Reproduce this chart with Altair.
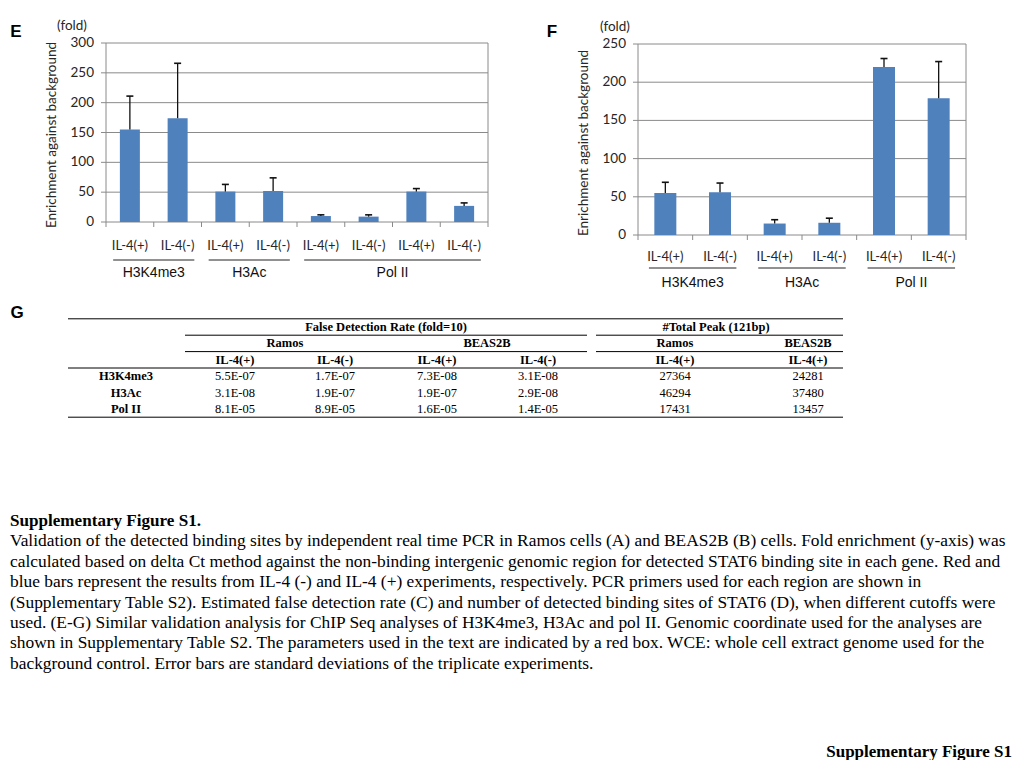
import altair as alt
import pandas as pd

# ---------------- data ----------------
E_GROUPS = ["H3K4me3", "H3K4me3", "H3Ac", "H3Ac", "Pol II", "Pol II", "Pol II", "Pol II"]
E_CONDS = ["IL-4(+)", "IL-4(-)", "IL-4(+)", "IL-4(-)", "IL-4(+)", "IL-4(-)", "IL-4(+)", "IL-4(-)"]
E_MEANS = [155, 174, 51, 52, 10, 9, 51, 27]
E_SDS = [56, 92, 12, 22, 2, 3, 5, 5]
E_YTICKS = [0, 50, 100, 150, 200, 250, 300]

F_GROUPS = ["H3K4me3", "H3K4me3", "H3Ac", "H3Ac", "Pol II", "Pol II"]
F_CONDS = ["IL-4(+)", "IL-4(-)", "IL-4(+)", "IL-4(-)", "IL-4(+)", "IL-4(-)"]
F_MEANS = [55, 56, 15, 16, 220, 179]
F_SDS = [14, 12, 5, 6, 11, 48]
F_YTICKS = [0, 50, 100, 150, 200, 250]

Y_TITLE = "Enrichment against  background"
UNIT = "(fold)"

TABLE_HEAD1 = ["False Detection Rate (fold=10)", "#Total  Peak (121bp)"]
TABLE_HEAD2 = ["Ramos", "BEAS2B", "Ramos", "BEAS2B"]
TABLE_HEAD3 = ["IL-4(+)", "IL-4(-)", "IL-4(+)", "IL-4(-)", "IL-4(+)", "IL-4(+)"]
TABLE_ROWS = ["H3K4me3", "H3Ac", "Pol II"]
FDR_RAMOS_PLUS = ["5.5E-07", "3.1E-08", "8.1E-05"]
FDR_RAMOS_MINUS = ["1.7E-07", "1.9E-07", "8.9E-05"]
FDR_BEAS_PLUS = ["7.3E-08", "1.9E-07", "1.6E-05"]
FDR_BEAS_MINUS = ["3.1E-08", "2.9E-08", "1.4E-05"]
PEAK_RAMOS = ["27364", "46294", "17431"]
PEAK_BEAS = ["24281", "37480", "13457"]

CAPTION_TITLE = "Supplementary Figure S1."
CAPTION_LINES = [
    "Validation of the detected binding sites by independent real time PCR in Ramos cells (A) and BEAS2B (B) cells. Fold enrichment (y-axis) was",
    "calculated based on delta Ct method against the non-binding intergenic genomic region for detected STAT6 binding site in each gene. Red and",
    "blue bars represent the results from IL-4 (-) and IL-4 (+) experiments, respectively. PCR primers used for each region are shown in",
    "(Supplementary Table S2). Estimated false detection rate (C) and number of detected binding sites of STAT6 (D), when different cutoffs were",
    "used. (E-G) Similar validation analysis for ChIP Seq analyses of H3K4me3, H3Ac and pol II. Genomic coordinate used for the analyses are",
    "shown in Supplementary Table S2. The parameters used in the text are indicated by a red box. WCE: whole cell extract genome used for the",
    "background control. Error bars are standard deviations of the triplicate experiments.",
]
FOOTER = "Supplementary Figure S1"

# ---------------- style ----------------
BLUE = "#4F81BD"
GRID = "#8a8a8a"
TXT = "#262626"
AXIS_FONT = "Lato"
GROUP_FONT = "Liberation Sans"
SERIF = "Liberation Serif"
AX_FS = 13.5
XLAB_FS = 13


def P(v):
    return v - 8  # page pixel -> chart pixel


def one(t):
    return pd.DataFrame({"t": [t]})


def panel(groups, conds, means, sds, yticks, xr, yr, bar_w, dy_lab, dy_line,
          dy_grp, margin, ylab_dx, fold_xy, letter, letter_xy, title_xy):
    n = len(means)
    ymax = yticks[-1]
    xs = alt.Scale(domain=[0, n], range=[P(xr[0]), P(xr[1])], nice=False, zero=False)
    ys = alt.Scale(domain=[0, ymax], range=[P(yr[0]), P(yr[1])], nice=False, zero=False)

    def X(f):
        return alt.X(f, type="quantitative", scale=xs, axis=None)

    def Y(f):
        return alt.Y(f, type="quantitative", scale=ys, axis=None)

    bar_df = pd.DataFrame({
        "slot": [i + 0.5 for i in range(n)],
        "mean": means,
        "top": [m + s for m, s in zip(means, sds)],
        "base": [0] * n,
        "cond": conds,
    })
    grid_df = pd.DataFrame({"val": yticks, "left": [0] * len(yticks), "right": [n] * len(yticks)})
    bound_df = pd.DataFrame({"k": list(range(n + 1)), "base": [0] * (n + 1)})
    frame_df = pd.DataFrame({"s": [0, n], "lo": [0, 0], "hi": [ymax, ymax]})

    g_rows = []
    for g in dict.fromkeys(groups):
        idx = [i for i, gg in enumerate(groups) if gg == g]
        i0, i1 = idx[0], idx[-1] + 1
        g_rows.append({"group": g, "g0": i0 + margin, "g1": i1 - margin,
                       "gc": (i0 + i1) / 2, "base": 0})
    grp_df = pd.DataFrame(g_rows)

    layers = [
        alt.Chart(grid_df).mark_rule(color=GRID, strokeWidth=1).encode(
            x=X("left"), x2="right", y=Y("val")),
        alt.Chart(grid_df).mark_rule(color=GRID, strokeWidth=1, xOffset=-5).encode(
            x=X("left"), x2="left", y=Y("val")),
        alt.Chart(frame_df).mark_rule(color=GRID, strokeWidth=1).encode(
            x=X("s"), y=Y("lo"), y2="hi"),
        alt.Chart(bound_df).mark_rule(color=GRID, strokeWidth=1, y2Offset=5).encode(
            x=X("k"), y=Y("base"), y2="base"),
        alt.Chart(grid_df).mark_text(align="right", baseline="middle", dx=ylab_dx,
                                     font=AXIS_FONT, fontSize=AX_FS, color=TXT).encode(
            x=X("left"), y=Y("val"), text=alt.Text("val:Q", format="d")),
        alt.Chart(bar_df).mark_bar(color=BLUE, size=bar_w).encode(
            x=X("slot"), y=Y("mean"), y2="base"),
        alt.Chart(bar_df).mark_rule(color="#111", strokeWidth=1.3).encode(
            x=X("slot"), y=Y("mean"), y2="top"),
        alt.Chart(bar_df).mark_rule(color="#111", strokeWidth=1.6, xOffset=-3.5, x2Offset=3.5).encode(
            x=X("slot"), x2="slot", y=Y("top")),
        alt.Chart(bar_df).mark_text(baseline="middle", dy=dy_lab, font=AXIS_FONT,
                                    fontSize=XLAB_FS, color=TXT).encode(
            x=X("slot"), y=Y("base"), text="cond:N"),
        alt.Chart(grp_df).mark_rule(color="#222", strokeWidth=1, yOffset=dy_line).encode(
            x=X("g0"), x2="g1", y=Y("base")),
        alt.Chart(grp_df).mark_text(baseline="middle", dy=dy_grp, font=GROUP_FONT,
                                    fontSize=14, color="#111").encode(
            x=X("gc"), y=Y("base"), text="group:N"),
        alt.Chart(one(UNIT)).mark_text(baseline="middle", font=AXIS_FONT, fontSize=AX_FS,
                                       color=TXT).encode(
            x=alt.value(P(fold_xy[0])), y=alt.value(P(fold_xy[1])), text="t:N"),
        alt.Chart(one(Y_TITLE)).mark_text(baseline="middle", angle=270, font=AXIS_FONT,
                                          fontSize=AX_FS, color=TXT).encode(
            x=alt.value(P(title_xy[0])), y=alt.value(P(title_xy[1])), text="t:N"),
        alt.Chart(one(letter)).mark_text(baseline="middle", font=GROUP_FONT, fontSize=17,
                                         fontWeight="bold", color="#000").encode(
            x=alt.value(P(letter_xy[0])), y=alt.value(P(letter_xy[1])), text="t:N"),
    ]
    return alt.layer(*layers)


panel_e = panel(E_GROUPS, E_CONDS, E_MEANS, E_SDS, E_YTICKS,
                xr=(101, 493), yr=(222, 43), bar_w=20, dy_lab=24, dy_line=38,
                dy_grp=51, margin=0.15, ylab_dx=-12, fold_xy=(72, 26), letter="E",
                letter_xy=(16, 32), title_xy=(52, 135))
panel_f = panel(F_GROUPS, F_CONDS, F_MEANS, F_SDS, F_YTICKS,
                xr=(633, 971), yr=(235, 44), bar_w=22, dy_lab=22, dy_line=33,
                dy_grp=47.5, margin=0.2, ylab_dx=-12, fold_xy=(615, 27), letter="F",
                letter_xy=(552, 32), title_xy=(584, 143))

# ---------------- table ----------------
row_scale = alt.Scale(domain=[-0.5, 5.5], range=[P(318.8), P(417.2)], nice=False, zero=False)


def RY(f):
    return alt.Y(f, type="quantitative", scale=row_scale, axis=None)


COL_X = [235, 335, 437, 538, 675, 808]
LABEL_X = 126
TBL_FS = 12.5

tbl_layers = []


def cell_layer(texts, rows, x, bold):
    df = pd.DataFrame({"t": texts, "row": rows})
    return alt.Chart(df).mark_text(baseline="middle", font=SERIF, fontSize=TBL_FS,
                                   fontWeight="bold" if bold else "normal",
                                   color="#000").encode(
        x=alt.value(P(x)), y=RY("row"), text="t:N")


# header row 0 (spanning titles)
for t, x in zip(TABLE_HEAD1, [386, 716]):
    tbl_layers.append(cell_layer([t], [0], x, True))
# header row 1
for t, x in zip(TABLE_HEAD2, [285, 487, 675, 808]):
    tbl_layers.append(cell_layer([t], [1], x, True))
# header row 2
for t, x in zip(TABLE_HEAD3, COL_X):
    tbl_layers.append(cell_layer([t], [2], x, True))
# row labels
tbl_layers.append(cell_layer(TABLE_ROWS, [3, 4, 5], LABEL_X, True))
# data columns
for col, x in zip([FDR_RAMOS_PLUS, FDR_RAMOS_MINUS, FDR_BEAS_PLUS, FDR_BEAS_MINUS,
                   PEAK_RAMOS, PEAK_BEAS], COL_X):
    tbl_layers.append(cell_layer(col, [3, 4, 5], x, False))

# table rules: (row boundary, x from, x to)
TABLE_RULES = [(-0.5, 68, 843), (0.5, 185, 587), (0.5, 596, 843),
               (1.5, 185, 587), (1.5, 596, 843), (2.5, 68, 843), (5.5, 68, 843)]
for r, a, b in TABLE_RULES:
    tbl_layers.append(
        alt.Chart(pd.DataFrame({"row": [r]})).mark_rule(color="#000", strokeWidth=1).encode(
            x=alt.value(P(a)), x2=alt.value(P(b)), y=RY("row")))

tbl_layers.append(
    alt.Chart(one("G")).mark_text(baseline="middle", font=GROUP_FONT, fontSize=17,
                                  fontWeight="bold", color="#000").encode(
        x=alt.value(P(17)), y=alt.value(P(313)), text="t:N"))

table = alt.layer(*tbl_layers)

# ---------------- caption ----------------
line_scale = alt.Scale(domain=[0, 7], range=[P(521), P(521 + 20.4 * 7)], nice=False, zero=False)
cap_df = pd.DataFrame({"t": CAPTION_LINES, "line": list(range(1, len(CAPTION_LINES) + 1))})
cap_title_df = pd.DataFrame({"t": [CAPTION_TITLE], "line": [0]})

caption = alt.layer(
    alt.Chart(cap_title_df).mark_text(align="left", baseline="middle", font=SERIF,
                                      fontSize=17.1, fontWeight="bold", color="#000").encode(
        x=alt.value(P(10)), y=alt.Y("line:Q", scale=line_scale, axis=None), text="t:N"),
    alt.Chart(cap_df).mark_text(align="left", baseline="middle", font=SERIF,
                                fontSize=17.4, color="#000").encode(
        x=alt.value(P(10)), y=alt.Y("line:Q", scale=line_scale, axis=None), text="t:N"),
)

footer = alt.Chart(one(FOOTER)).mark_text(align="right", baseline="alphabetic", font=SERIF,
                                          fontSize=17, fontWeight="bold", color="#000").encode(
    x=alt.value(P(1012)), y=alt.value(P(756.5)), text="t:N")

chart = alt.layer(panel_e, panel_f, table, caption, footer).resolve_scale(
    x="independent", y="independent"
).properties(
    width=1008, height=752, padding=0,
    autosize=alt.AutoSizeParams(type="none"),
    background="white",
).configure_view(strokeWidth=0)

chart.save("out.html", embed_options={"renderer": "svg", "actions": False})
